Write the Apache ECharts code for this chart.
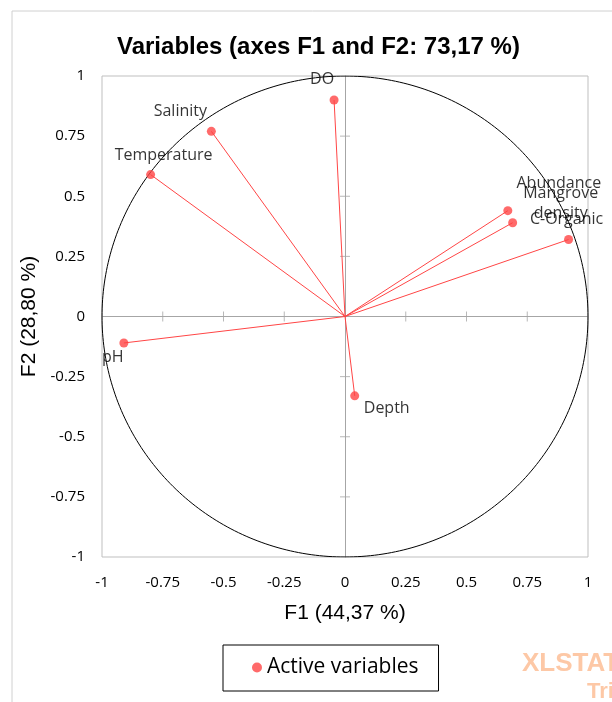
<!DOCTYPE html>
<html><head><meta charset="utf-8">
<script src="https://cdn.jsdelivr.net/npm/echarts@6/dist/echarts.min.js"></script>
<style>html,body{margin:0;padding:0;background:#fff}#c{width:612px;height:702px}</style>
</head><body><div id="c"></div>
<script>
const variables = ['DO','Salinity','Temperature','pH','Depth','Abundance','Mangrove\ndensity','C-Organic'];
const f1 = [-0.045,-0.55,-0.80,-0.91,0.04,0.67,0.69,0.92];
const f2 = [0.90,0.77,0.59,-0.11,-0.33,0.44,0.39,0.32];
const tickValues = [-1,-0.75,-0.5,-0.25,0,0.25,0.5,0.75,1];

const labelOffsets = {
  'DO':[-12,-21],'Salinity':[-31,-20],'Temperature':[13,-19],'pH':[-11,14],
  'Depth':[32,13],'Abundance':[51,-27],'Mangrove\ndensity':[48,-19],'C-Organic':[-2,-20]
};
const RED = '#ff4545';
const AXIS_GRAY = '#a6a6a6';
const LFONT = 'Open Sans';

const chart = echarts.init(document.getElementById('c'));
const circle = [];
for (let a = 0; a <= 360; a += 1) circle.push([Math.cos(a*Math.PI/180), Math.sin(a*Math.PI/180)]);

const vectorSeries = variables.map((v,i)=>({
  type:'line', silent:true, symbol:'none', z:3,
  lineStyle:{color:RED,width:1}, data:[[0,0],[f1[i],f2[i]]]
}));

const innerTicks = tickValues.filter(v => v !== -1 && v !== 1 && v !== 0);
const tickLabelStyle = {color:'#000', fontFamily:LFONT, fontSize:15};

chart.setOption({
  animation:false,
  title:{text:'Variables (axes F1 and F2: 73,17 %)', left:112, top:30,
    textStyle:{fontFamily:'Liberation Sans', fontWeight:'bold', fontSize:24, color:'#000'}},
  grid:{left:102, right:24, top:76, bottom:145, show:true, borderColor:'#bfbfbf', borderWidth:1},
  xAxis:[
    {type:'value', min:tickValues[0], max:tickValues[tickValues.length-1], interval:0.25, position:'bottom',
      axisLine:{show:false,onZero:false}, axisTick:{show:false}, splitLine:{show:false},
      axisLabel:Object.assign({margin:18},tickLabelStyle),
      name:'F1 (44,37 %)', nameLocation:'middle', nameGap:46,
      nameTextStyle:{fontFamily:'Liberation Sans', fontSize:21, color:'#000'}},
    {type:'value', min:tickValues[0], max:tickValues[tickValues.length-1], interval:0.25, position:'bottom',
      axisLine:{show:true,onZero:true,lineStyle:{color:AXIS_GRAY,width:1}},
      axisTick:{show:false}, axisLabel:{show:false}, splitLine:{show:false}}
  ],
  yAxis:[
    {type:'value', min:tickValues[0], max:tickValues[tickValues.length-1], interval:0.25, position:'left',
      axisLine:{show:false,onZero:false}, axisTick:{show:false}, splitLine:{show:false},
      axisLabel:Object.assign({margin:17},tickLabelStyle),
      name:'F2 (28,80 %)', nameLocation:'middle', nameGap:59, nameRotate:90,
      nameTextStyle:{fontFamily:'Liberation Sans', fontSize:21, color:'#000'}},
    {type:'value', min:tickValues[0], max:tickValues[tickValues.length-1], interval:0.25, position:'left',
      axisLine:{show:true,onZero:true,lineStyle:{color:AXIS_GRAY,width:1}},
      axisTick:{show:false}, axisLabel:{show:false}, splitLine:{show:false}}
  ],
  legend:{show:true, data:['Active variables'], left:223, top:645,
    padding:[12,20,13,29], itemWidth:10, itemHeight:10, itemGap:9,
    borderColor:'#000', borderWidth:1,
    textStyle:{fontFamily:LFONT, fontSize:21, color:'#000'}},
  series:[
    {type:'line', silent:true, symbol:'none', z:2, data:circle, smooth:false,
      lineStyle:{color:'#000',width:1}},
    {type:'scatter', silent:true, z:1, symbol:'rect', symbolSize:[10,1],
      itemStyle:{color:AXIS_GRAY}, data: innerTicks.map(v=>[0,v])},
    {type:'scatter', silent:true, z:1, symbol:'rect', symbolSize:[1,10],
      itemStyle:{color:AXIS_GRAY}, data: innerTicks.map(v=>[v,0])},
    ...vectorSeries,
    {type:'scatter', name:'Active variables', z:5, symbol:'circle', symbolSize:9,
      itemStyle:{color:RED},
      data: variables.map((v,i)=>({name:v, value:[f1[i],f2[i]],
        label:{show:true, position:'inside', offset:labelOffsets[v], formatter:v,
          align:'center', verticalAlign:'middle', color:'#000', fontFamily:LFONT, fontSize:16, lineHeight:20}}))
    }
  ],
  graphic:[
    {type:'rect', silent:true, shape:{x:12,y:11,width:640,height:720}, style:{fill:'none',stroke:'#d0d0d0',lineWidth:1}, z:-10},
    {type:'text', silent:true, left:522, top:651, style:{text:'XLSTAT', fill:'#fdc8a6', font:'bold 26px "Liberation Sans"'}},
    {type:'text', silent:true, left:587, top:681, style:{text:'Trial', fill:'#fdc8a6', font:'bold 22px "Liberation Sans"'}}
  ]
});
</script></body></html>
